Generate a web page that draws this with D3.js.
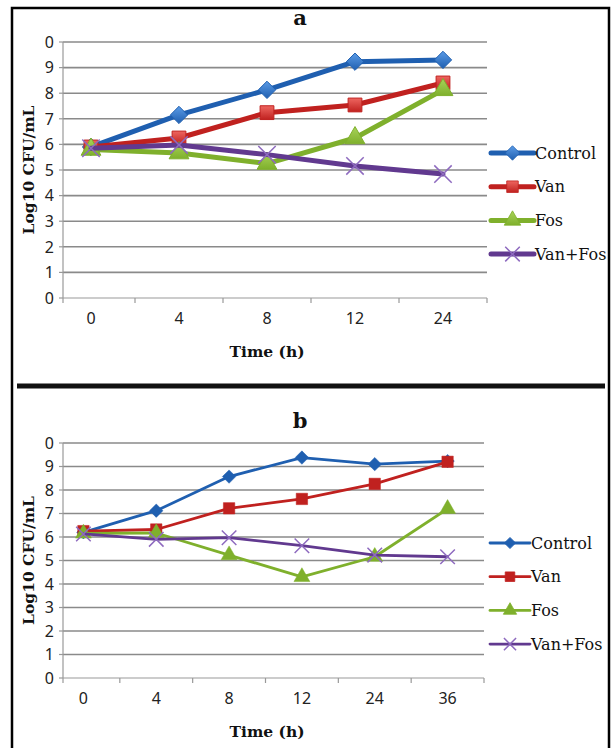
<!DOCTYPE html>
<html>
<head>
<meta charset="utf-8">
<script src="https://cdn.jsdelivr.net/npm/d3@7"></script>
<style>
    body { margin: 0; background: #fff; }
    svg { display: block; }
    .tick-label { font-family: 'Noto Sans', sans-serif; font-size: 16px; fill: #222; }
    .ax-title { font-family: 'DejaVu Serif', serif; font-weight: bold; font-size: 15.5px; fill: #111; }
    .legend text { font-family: 'DejaVu Serif', serif; font-size: 16px; fill: #111; }
</style>
</head>
<body>
<div id="chart"></div>
<script>
    'use strict';

    const SERIES = ['Control', 'Van', 'Fos', 'Van+Fos'];
    const COLORS = ['#1f5fb0', '#c0211f', '#7fb02c', '#61398f'];
    const LIGHT = ['#5b9be6', '#ee6660', '#a8d35a', '#8e6abf'];
    const Y_TICKS = d3.range(0, 11);

    // panel a
    const timesA = ['0', '4', '8', '12', '24'];
    const controlA = [5.9, 7.15, 8.13, 9.23, 9.3];
    const vanA = [5.9, 6.25, 7.24, 7.54, 8.4];
    const fosA = [5.8, 5.66, 5.25, 6.25, 8.13];
    const vanFosA = [5.85, 5.98, 5.6, 5.16, 4.84];

    // panel b
    const timesB = ['0', '4', '8', '12', '24', '36'];
    const controlB = [6.2, 7.12, 8.57, 9.38, 9.1, 9.23];
    const vanB = [6.25, 6.32, 7.22, 7.62, 8.26, 9.2];
    const fosB = [6.15, 6.17, 5.23, 4.3, 5.16, 7.2];
    const vanFosB = [6.13, 5.9, 5.97, 5.63, 5.23, 5.16];

    const W = 616, H = 748;
    const svg = d3.select('#chart').append('svg').attr('width', W).attr('height', H);

    const defs = svg.append('defs');
    SERIES.forEach(function (s, i) {
        const g = defs.append('linearGradient').attr('id', 'grad' + i)
            .attr('x1', 0).attr('y1', 0).attr('x2', 0).attr('y2', 1);
        g.append('stop').attr('offset', '0%').attr('stop-color', LIGHT[i]);
        g.append('stop').attr('offset', '100%').attr('stop-color', COLORS[i]);
    });

    // frame
    svg.append('path').attr('d', 'M12,760 L12,8 L609,8 L609,760')
        .attr('fill', 'none').attr('stroke', '#000').attr('stroke-width', 2.5);
    svg.append('line').attr('x1', 17).attr('x2', 605).attr('y1', 386).attr('y2', 386)
        .attr('stroke', '#111').attr('stroke-width', 5);

    // square diamond (rotated square), as in the spreadsheet marker
    const squareDiamond = {
        draw: function (ctx, size) {
            const r = Math.sqrt(size / 2);
            ctx.moveTo(0, -r);
            ctx.lineTo(r, 0);
            ctx.lineTo(0, r);
            ctx.lineTo(-r, 0);
            ctx.closePath();
        }
    };

    function markerPath(i, size) {
        const types = [squareDiamond, d3.symbolSquare, d3.symbolTriangle, d3.symbolTimes];
        return d3.symbol().type(types[i]).size(size)();
    }

    function drawPanel(p) {
        const g = svg.append('g');

        const x = d3.scaleBand().domain(p.times).range([p.left - 16, p.right]);
        const y = d3.scaleLinear().domain([0, 10]).range([p.bottom, p.top]);
        const axisX = p.left;

        // title
        g.append('text').attr('x', 300).attr('y', p.titleY).attr('text-anchor', 'middle')
            .attr('class', 'ax-title').style('font-size', '21px').text(p.title);

        // gridlines
        g.selectAll('.grid').data(Y_TICKS.slice(1)).enter().append('line')
            .attr('x1', axisX).attr('x2', p.right)
            .attr('y1', function (d) { return y(d); }).attr('y2', function (d) { return y(d); })
            .attr('stroke', '#8a8a8a').attr('stroke-width', 1.6);

        // y axis
        g.append('line').attr('x1', axisX).attr('x2', axisX).attr('y1', p.top).attr('y2', p.bottom)
            .attr('stroke', '#999').attr('stroke-width', 1.2);
        g.selectAll('.ytick').data(Y_TICKS).enter().append('line')
            .attr('x1', axisX - 4).attr('x2', axisX)
            .attr('y1', function (d) { return y(d); }).attr('y2', function (d) { return y(d); })
            .attr('stroke', '#999').attr('stroke-width', 1.2);

        const clipId = 'clip' + p.title;
        defs.append('clipPath').attr('id', clipId).append('rect')
            .attr('x', p.clipX).attr('y', p.top - 20).attr('width', 40).attr('height', p.bottom - p.top + 40);
        g.append('g').attr('clip-path', 'url(#' + clipId + ')')
            .selectAll('text').data(Y_TICKS).enter().append('text')
            .attr('class', 'tick-label').attr('text-anchor', 'end')
            .attr('x', axisX - 9).attr('y', function (d) { return y(d); }).attr('dy', '0.36em')
            .text(function (d) { return d; });

        // x axis
        g.append('line').attr('x1', axisX).attr('x2', p.right).attr('y1', p.bottom).attr('y2', p.bottom)
            .attr('stroke', '#999').attr('stroke-width', 1.2);
        const tickXs = [axisX].concat(p.times.map(function (t) { return x(t) + x.bandwidth(); }));
        g.selectAll('.xtick').data(tickXs).enter().append('line')
            .attr('x1', function (d) { return d; }).attr('x2', function (d) { return d; })
            .attr('y1', p.bottom).attr('y2', p.bottom + 5)
            .attr('stroke', '#999').attr('stroke-width', 1.2);
        g.selectAll('.xlabel').data(p.times).enter().append('text')
            .attr('class', 'tick-label').attr('text-anchor', 'middle')
            .attr('x', function (d) { return x(d) + x.bandwidth() / 2; })
            .attr('y', p.bottom + 26)
            .text(function (d) { return d; });

        g.append('text').attr('class', 'ax-title').attr('text-anchor', 'middle')
            .attr('x', 267).attr('y', p.bottom + 59).text('Time (h)');
        g.append('text').attr('class', 'ax-title').attr('text-anchor', 'middle')
            .attr('transform', 'translate(34,' + ((p.top + p.bottom) / 2) + ') rotate(-90)')
            .text('Log10 CFU/mL');

        // series
        const line = d3.line()
            .x(function (d, i) { return x(p.times[i]) + x.bandwidth() / 2; })
            .y(function (d) { return y(d); });

        p.values.forEach(function (vals, i) {
            const sg = g.append('g');
            sg.append('path').datum(vals).attr('d', line)
                .attr('fill', 'none').attr('stroke', COLORS[i]).attr('stroke-width', p.lineW)
                .attr('stroke-linejoin', 'round').attr('stroke-linecap', 'round');
            sg.selectAll('.pt').data(vals).enter().append('path')
                .attr('transform', function (d, j) {
                    return 'translate(' + (x(p.times[j]) + x.bandwidth() / 2) + ',' + y(d) + ')';
                })
                .attr('d', markerPath(i, p.markerSize[i]))
                .attr('fill', i === 3 ? COLORS[i] : (p.gradient ? 'url(#grad' + i + ')' : COLORS[i]))
                .attr('stroke', i === 3 ? LIGHT[i] : COLORS[i])
                .attr('stroke-width', i === 3 ? 1.5 : (p.gradient ? 1 : 0.5));
        });

        // legend
        const leg = g.append('g').attr('class', 'legend');
        const items = leg.selectAll('g').data(SERIES).enter().append('g')
            .attr('transform', function (d, i) { return 'translate(0,' + (p.legendY + i * 33.7) + ')'; });
        items.append('line').attr('x1', p.legendX).attr('x2', p.legendX + p.legendLen)
            .attr('stroke', function (d, i) { return COLORS[i]; })
            .attr('stroke-width', p.lineW).attr('stroke-linecap', 'round');
        items.append('path')
            .attr('transform', 'translate(' + (p.legendX + p.legendLen / 2) + ',0)')
            .attr('d', function (d, i) { return markerPath(i, p.markerSize[i] * 0.7); })
            .attr('fill', function (d, i) { return i === 3 ? COLORS[i] : (p.gradient ? 'url(#grad' + i + ')' : COLORS[i]); })
            .attr('stroke', function (d, i) { return i === 3 ? LIGHT[i] : COLORS[i]; })
            .attr('stroke-width', function (d, i) { return i === 3 ? 1.5 : 0.8; });
        items.append('text').attr('x', p.legendX + p.legendLen + 1).attr('dy', '0.35em')
            .text(function (d) { return d; });
    }

    drawPanel({
        title: 'a', titleY: 25, times: timesA,
        values: [controlA, vanA, fosA, vanFosA],
        left: 63, right: 487, top: 42, bottom: 298, clipX: 42,
        lineW: 5, markerSize: [150, 190, 170, 200], gradient: true,
        legendX: 491, legendLen: 43, legendY: 153
    });

    drawPanel({
        title: 'b', titleY: 428, times: timesB,
        values: [controlB, vanB, fosB, vanFosB],
        left: 63, right: 484, top: 443, bottom: 678, clipX: 43,
        lineW: 2.8, markerSize: [90, 130, 110, 140], gradient: false,
        legendX: 490, legendLen: 40, legendY: 543
    });
</script>
</body>
</html>
